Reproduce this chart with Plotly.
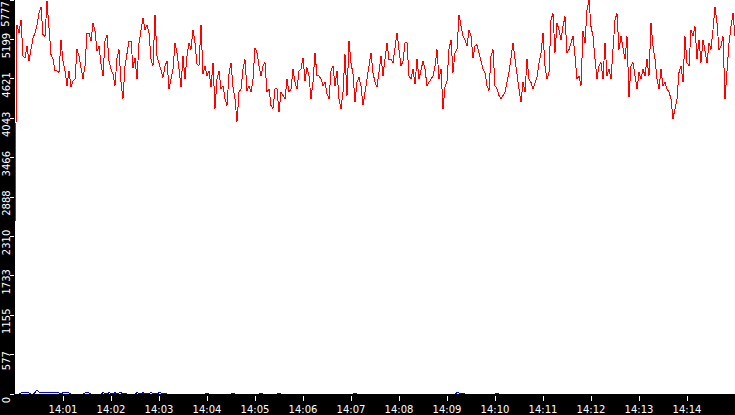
import pandas as pd
import plotly.graph_objects as go

# ---- data ----
start_time = "2024-01-01 14:00:00"
sample_seconds = 2.5

red_values = [
    2500,
    5415, 5294, 5487, 4957, 4932, 5101, 4884, 5053, 5222, 5294, 5415, 5584, 5680, 5270, 5246, 5760, 5391, 4981, 4908, 4739,
    4739, 4715, 5198, 4884, 4739, 4522, 4739, 4498, 4595, 4619, 5053, 4957, 4788, 4619, 4812, 5294, 5294, 5174, 5439, 5319,
    5029, 5101, 4836, 4667, 5174, 5270, 4884, 4764, 4691, 4522, 4932, 5053, 4571, 4329, 4812, 5005, 5174, 5174, 4788, 4932,
    4619, 5150, 5343, 5512, 5343, 5415, 5294, 4908, 4812, 5560, 4957, 4860, 4739, 4643, 4812, 4884, 4474, 4619, 4764, 5150,
    5005, 4764, 4498, 4957, 4619, 4957, 5150, 5053, 5343, 5150, 4836, 4812, 5415, 4691, 4812, 4667, 4739, 4498, 4860, 4184,
    4619, 4739, 4474, 4522, 4329, 4233, 4691, 4860, 4498, 4329, 3991, 4426, 4474, 4764, 4908, 4450, 4522, 4426, 4619, 5077,
    5005,
    4812, 4667, 4812, 4860, 4426, 4474, 4233, 4184, 4474, 4474, 4136, 4426, 4377, 4329, 4619, 4426, 4474, 4764, 4571, 4474,
    4739, 4764, 4932, 4595, 4788, 4667, 4329, 4571, 5005, 4667, 4667, 4619, 4522, 4571, 4402, 4329, 4739, 4812, 4522, 4739,
    4329, 4184, 4426, 4981, 4377, 5174, 4860, 4691, 4281, 4571, 4643, 4522, 4233, 4426, 4619, 4812, 5005, 4715, 4571, 4498,
    4691, 4957, 4667, 4908, 5150, 4908, 4908, 4860, 5053, 5294, 5053, 4812, 4884, 5150, 5150, 4667, 4619, 4764, 4546, 4908,
    4619, 4739, 4884, 4764, 4522, 4571, 4619, 4667, 4812, 5053, 4619, 4764, 4184, 4498, 4595, 5053, 5198, 4715, 5005, 5053,
    5560, 5391, 5246, 5198, 5101, 5343, 5246, 4932, 5101, 5126, 5005, 4860, 4764, 4715, 4522, 4450, 4957, 5053, 4522, 4474,
    4377, 4329, 4377, 4426, 4571, 4715, 4932, 5150, 4908, 4667, 4474, 4281, 4571, 4426, 4908, 4619, 4571, 4474, 4546, 4643,
    4860, 5005, 5294, 4812, 4619, 4715, 5487, 5584, 5005, 5439, 5343, 5198, 5391, 5536, 5005, 5053, 5150, 5246, 4957, 4619,
    4667, 4522, 5319, 5150, 5632, 5777, 5391, 5246, 4908, 4619, 4812, 4860, 4619, 5150, 4667, 4764, 4619, 5005, 5487, 5584,
    5053, 5246, 5101, 4908, 5246, 4353, 4812, 4860, 4667, 4474, 4715, 4619, 4764, 4667, 4908, 4667, 5439, 5101, 4908, 4619,
    4474, 4764, 4522, 4571, 4474, 4426, 4329, 4040, 4184, 4329, 4715, 4812, 4571, 5246, 4860, 4812, 5343, 5246, 5391, 4908,
    5198, 4860, 5198, 5005, 4860, 5150, 5053, 5343, 5680, 5439, 5053, 5101, 5246, 4329, 4812, 5150, 5391, 5584, 5246,
]

# non-zero samples of the blue series (sample index, value); all others are 0
blue_index = [3, 4, 5, 6, 7, 10, 11, 12, 13, 14, 15, 16, 17, 18, 19, 20, 21, 22, 24, 25, 26, 27,
              35, 36, 37, 44, 45, 47, 48, 50, 52, 53, 55, 61, 62, 64, 66, 68, 70, 72, 73,
              96, 109, 123, 132, 170, 221, 222, 241]
blue_nonzero = [15, 20, 15, 20, 15, 20, 60, 25, 20, 25, 20, 15, 20, 25, 20, 15, 20, 15, 20, 15, 20, 15,
                15, 20, 15, 20, 15, 20, 15, 20, 15, 20, 15, 20, 15, 20, 15, 25, 15, 20, 15,
                15, 15, 15, 15, 15, 20, 15, 15]

y_tick_values = [0, 577.7, 1155.4, 1733.1, 2310.8, 2888.5, 3466.2, 4043.9, 4621.6, 5199.3, 5777]
y_tick_labels = ["0", "577", "1155", "1733", "2310", "2888", "3466", "4043", "4621", "5199", "5777"]
x_tick_labels = ["14:01", "14:02", "14:03", "14:04", "14:05", "14:06", "14:07",
                 "14:08", "14:09", "14:10", "14:11", "14:12", "14:13", "14:14"]
y_max = 5779

# ---- build ----
t0 = pd.Timestamp(start_time)
times = [t0 + pd.Timedelta(seconds=sample_seconds * i) for i in range(len(red_values))]
blue_values = [0] * len(red_values)
for i, v in zip(blue_index, blue_nonzero):
    blue_values[i] = v

x_tick_vals = [t0.strftime("%Y-%m-%d ") + lbl + ":00" for lbl in x_tick_labels]
x_end = t0 + pd.Timedelta(minutes=15)

# the topmost label sits at the very top edge; it is drawn as an annotation so it stays visible
axis_tick_text = y_tick_labels[:-1] + [""]

fig = go.Figure()
fig.add_trace(go.Scatter(x=times, y=blue_values, mode="lines",
                         line=dict(color="#0000ff", width=1), hoverinfo="skip", showlegend=False))
fig.add_trace(go.Scatter(x=times, y=red_values, mode="lines",
                         line=dict(color="#ff0000", width=1), showlegend=False))

font = dict(family="DejaVu Sans", size=10, color="white")
fig.add_annotation(
    x=0, xref="paper", xshift=-9, xanchor="center",
    y=y_tick_values[-1], yref="y", yanchor="top", yshift=0,
    text=y_tick_labels[-1], textangle=-90, showarrow=False, font=font,
)
fig.update_layout(
    width=735, height=415,
    margin=dict(l=15, r=0, t=0, b=16, pad=0),
    paper_bgcolor="black", plot_bgcolor="white",
    showlegend=False,
    xaxis=dict(
        type="date", range=[t0, x_end],
        tickvals=x_tick_vals, ticktext=x_tick_labels,
        ticks="outside", ticklen=5, tickwidth=1, tickcolor="white",
        tickfont=font, showgrid=False, zeroline=False,
        showline=True, linecolor="black", linewidth=2,
    ),
    yaxis=dict(
        range=[0, y_max],
        tickvals=y_tick_values, ticktext=axis_tick_text,
        tickangle=-90, ticklabelposition="outside bottom",
        ticks="outside", ticklen=4, tickwidth=1, tickcolor="white",
        tickfont=font, showgrid=False, zeroline=False, showline=False,
    ),
)

post = (
    "document.body.style.margin='0';document.body.style.overflow='hidden';"
    "document.querySelectorAll('.scatterlayer path.js-line').forEach(function(p){"
    "p.style.shapeRendering='crispEdges';});"
)
fig.write_html("out.html", config={"displayModeBar": False}, post_script=post)
